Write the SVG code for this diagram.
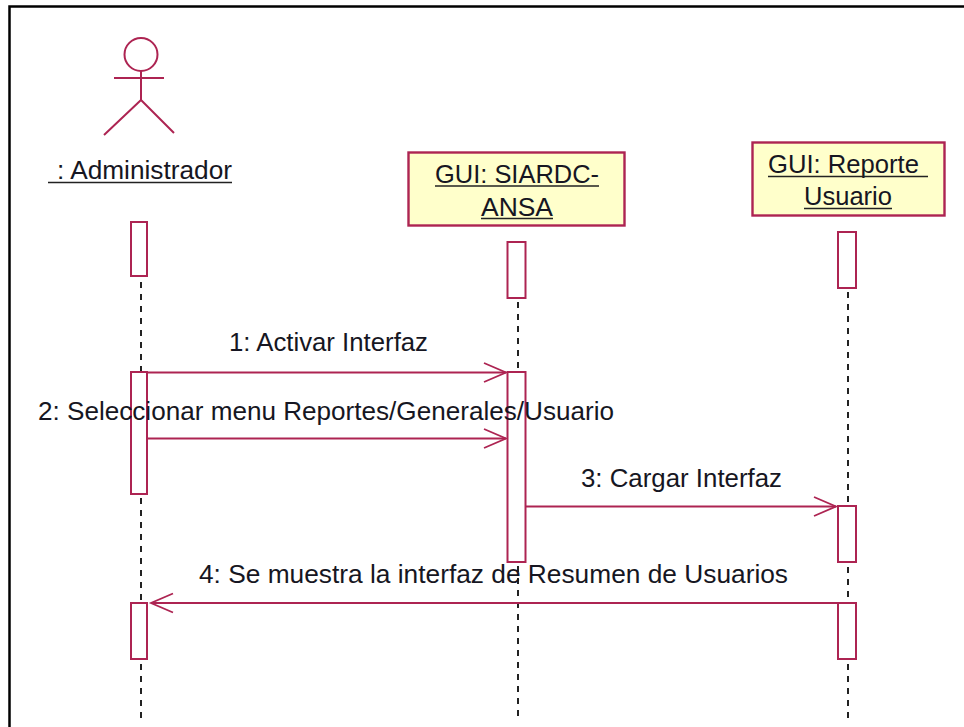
<svg xmlns="http://www.w3.org/2000/svg" width="964" height="727" viewBox="0 0 964 727">
<style>
text{font-family:"Liberation Sans",Arial,sans-serif;font-size:25.500px;fill:#161622}
.c{fill:none;stroke:#ad2452;stroke-width:2}
.box{fill:#ffffcb;stroke:#ad2452;stroke-width:2.400}
.act{fill:#fff;stroke:#ad2452;stroke-width:2}
.msg{stroke:#ad2452;stroke-width:2;fill:none}
.life{stroke:#222;stroke-width:2;stroke-dasharray:6 6;fill:none}
.ul{stroke:#222;stroke-width:1.600}
</style>
<defs>
<marker id="open" markerUnits="userSpaceOnUse" markerWidth="26" markerHeight="26" refX="23" refY="12" orient="auto">
<path d="M1 2.500L23 12L1 21.500" fill="none" stroke="#ad2452" stroke-width="1.800"/>
</marker>
</defs>
<rect width="964" height="727" fill="#fff"/>
<path d="M9.500 727V6.500H964" fill="none" stroke="#000" stroke-width="2.500"/>
<g id="connectors">
<path class="life" d="M141 282V372M141 498V602M141 664V718"/>
<path class="life" d="M518 302V372M518 566V718"/>
<path class="life" d="M848 292V506M848 567V602M848 664V718"/>
<path class="msg" marker-end="url(#open)" d="M147 372.500H506"/>
<path class="msg" marker-end="url(#open)" d="M147 438.500H506"/>
<path class="msg" marker-end="url(#open)" d="M526 506.500H836"/>
<path class="msg" marker-end="url(#open)" d="M838 603H151"/>
</g>
<g id="administrador">
<circle class="c" cx="141" cy="54.500" r="16.500"/>
<path class="c" d="M114 78H164M141 70V100M141 100L104 135M141 100L174 133"/>
<text x="57" y="179" textLength="175" lengthAdjust="spacingAndGlyphs">: Administrador</text>
<line class="ul" x1="48" y1="182.500" x2="232" y2="182.500"/>
<rect class="act" x="131" y="222" width="16" height="54"/>
<rect class="act" x="131" y="372" width="16" height="122"/>
<rect class="act" x="131" y="603" width="16" height="56"/>
</g>
<g id="gui-siardc-ansa">
<rect class="box" x="408.500" y="152.500" width="216" height="73"/>
<text x="435" y="183" textLength="164" lengthAdjust="spacingAndGlyphs">GUI: SIARDC-</text>
<line class="ul" x1="435" y1="186" x2="599" y2="186"/>
<text x="481" y="216" textLength="72" lengthAdjust="spacingAndGlyphs">ANSA</text>
<line class="ul" x1="481" y1="218.500" x2="553" y2="218.500"/>
<rect class="act" x="507.500" y="242" width="18" height="56"/>
<rect class="act" x="507.500" y="372" width="18" height="190"/>
</g>
<g id="gui-reporte-usuario">
<rect class="box" x="752.500" y="142.500" width="192" height="73"/>
<text x="768" y="173" textLength="151" lengthAdjust="spacingAndGlyphs">GUI: Reporte</text>
<line class="ul" x1="768" y1="176.500" x2="928" y2="176.500"/>
<text x="804" y="205" textLength="88" lengthAdjust="spacingAndGlyphs">Usuario</text>
<line class="ul" x1="804" y1="208.500" x2="892" y2="208.500"/>
<rect class="act" x="838" y="232" width="18" height="56"/>
<rect class="act" x="838" y="506" width="18" height="56"/>
<rect class="act" x="838" y="603" width="18" height="56"/>
</g>
<g id="labels">
<text x="229" y="351" textLength="199" lengthAdjust="spacingAndGlyphs">1: Activar Interfaz</text>
<text x="38" y="420" textLength="576" lengthAdjust="spacingAndGlyphs">2: Seleccionar menu Reportes/Generales/Usuario</text>
<text x="581" y="487" textLength="201" lengthAdjust="spacingAndGlyphs">3: Cargar Interfaz</text>
<text x="199" y="583" textLength="589" lengthAdjust="spacingAndGlyphs">4: Se muestra la interfaz de Resumen de Usuarios</text>
</g>
</svg>
